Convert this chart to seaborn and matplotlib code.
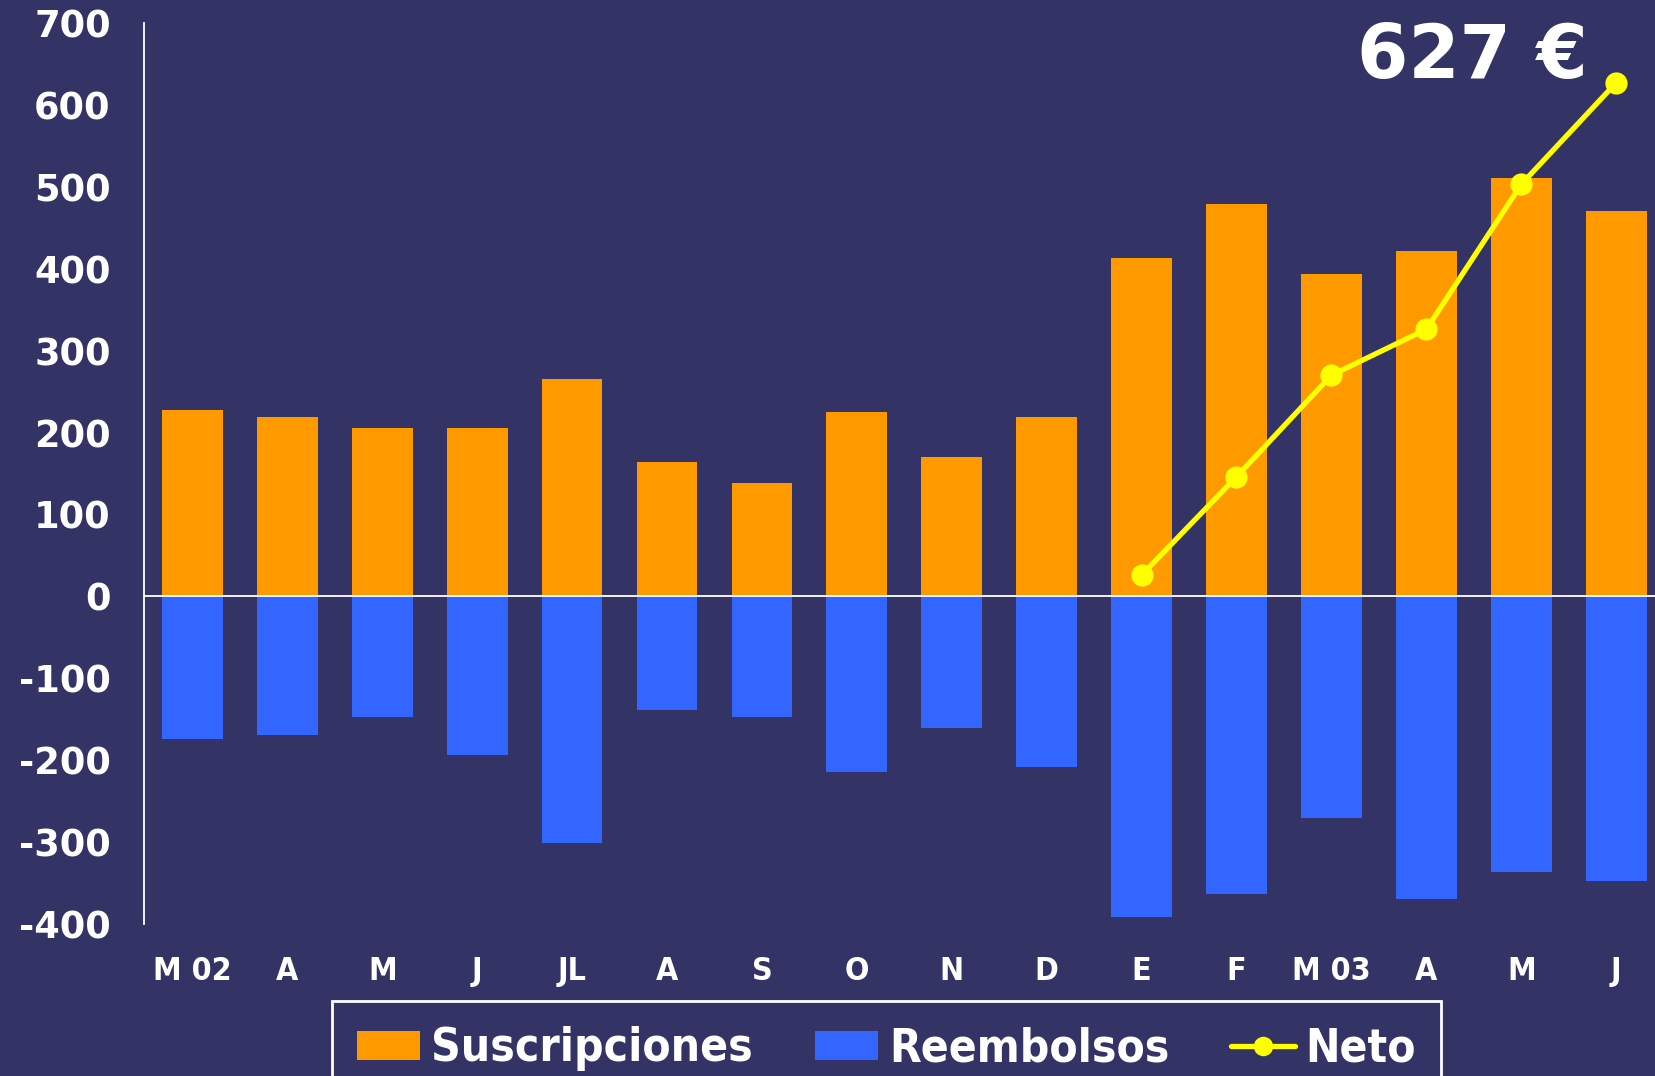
import numpy as np
import matplotlib.pyplot as plt
import pandas as pd
import seaborn as sns
from matplotlib.lines import Line2D
from matplotlib.patches import Patch

sns.set_style("dark")
plt.rcParams['font.family'] = ['DejaVu Sans']
plt.rcParams['axes.unicode_minus'] = False

# data
months = ["M 02", "A", "M", "J", "JL", "A", "S", "O", "N", "D",
          "E", "F", "M 03", "A", "M", "J"]
suscripciones = [227, 219, 205, 205, 265, 164, 139, 225, 170, 219,
                 413, 479, 394, 422, 511, 470]
reembolsos = [-174, -169, -147, -194, -301, -139, -147, -215, -161, -208,
              -391, -363, -271, -369, -337, -347]
neto_idx = [10, 11, 12, 13, 14, 15]
neto = [26, 146, 270, 326, 503, 627]

bg = "#333366"
orange = "#FF9900"
blue = "#3366FF"
yellow = "#FFFF00"

df = pd.DataFrame({"pos": np.arange(len(months)),
                   "sus": suscripciones, "ree": reembolsos})
df_neto = pd.DataFrame({"pos": neto_idx, "neto": neto})

fig = plt.figure(figsize=(16.56, 10.76), dpi=100, facecolor=bg)
ax = fig.add_axes([0.087, 0.1413, 0.913, 0.8373])
ax.set_facecolor(bg)

sns.barplot(data=df, x="pos", y="sus", color=orange, width=0.64,
            saturation=1, linewidth=0, edgecolor="none", ax=ax)
sns.barplot(data=df, x="pos", y="ree", color=blue, width=0.64,
            saturation=1, linewidth=0, edgecolor="none", ax=ax)
sns.lineplot(data=df_neto, x="pos", y="neto", color=yellow, lw=3.8,
             marker="o", markersize=16, markeredgewidth=0, ax=ax)

ax.axhline(0, color="white", lw=1.3)
ax.set_ylim(-400, 700)
ax.set_xlim(-0.51, 15.42)
ax.set_yticks(range(-400, 701, 100))
ax.set_xticks(range(len(months)))
ax.set_xticklabels(months, fontstretch="condensed")
ax.tick_params(axis="y", length=0, pad=24, labelsize=26.5, labelcolor="white")
ax.tick_params(axis="x", length=0, pad=23, labelsize=23, labelcolor="white")
for lab in ax.get_yticklabels() + ax.get_xticklabels():
    lab.set_fontweight("bold")
ax.set_xlabel("")
ax.set_ylabel("")
ax.grid(False)
for s in ["top", "right", "bottom"]:
    ax.spines[s].set_visible(False)
ax.spines["left"].set_color("white")
ax.spines["left"].set_linewidth(1.3)

fig.text(0.889, 0.947, "627 €", color="white", fontsize=53,
         fontweight="bold", ha="center", va="center")

handles = [Patch(facecolor=orange, edgecolor="none", label="Suscripciones"),
           Patch(facecolor=blue, edgecolor="none", label="Reembolsos"),
           Line2D([], [], color=yellow, lw=3.8, marker="o", markersize=14,
                  markeredgewidth=0, label="Neto")]
leg = fig.legend(handles=handles, loc="upper center",
                 bbox_to_anchor=(0.5354, 0.0697),
                 ncol=3, frameon=True, fancybox=False,
                 facecolor=bg, edgecolor="white", framealpha=1,
                 handlelength=1.38, handleheight=0.6, handletextpad=0.24,
                 borderpad=0.55, borderaxespad=0, columnspacing=1.35,
                 prop={"size": 33, "weight": "bold", "stretch": "condensed"})
leg.get_frame().set_linewidth(2)
for t in leg.get_texts():
    t.set_color("white")

fig.savefig("out.png", dpi=100, facecolor=bg)
